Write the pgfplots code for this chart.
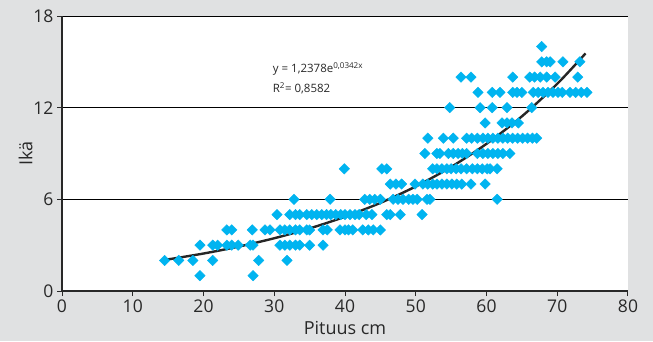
\documentclass[border=0pt]{standalone}
\usepackage{pgfplots}
\pgfplotsset{compat=1.18}
\usepackage{fontspec}
\setmainfont{Open Sans}
\definecolor{bggray}{RGB}{224,225,226}
\definecolor{dotcyan}{RGB}{0,180,240}
\definecolor{axgray}{RGB}{40,40,40}
\begin{document}
\begin{tikzpicture}
\useasboundingbox (0,0) rectangle (653pt,341pt);
\fill[bggray] (0,0) rectangle (653pt,341pt);
\begin{axis}[
  at={(62pt,50pt)}, anchor=south west,
  width=566pt, height=275pt, scale only axis,
  xmin=0, xmax=80, ymin=0, ymax=18,
  xtick={0,10,...,80}, ytick={0,6,12,18},
  axis lines=left, axis line style={axgray, line width=1.2pt, -},
  tick style={axgray, line width=1pt},
  tick align=outside, major tick length=5pt,
  ymajorgrids, grid style={black, line width=0.9pt},
  axis background/.style={fill=white},
  tick label style={font=\fontsize{17.5}{20}\selectfont, text=axgray},
  /pgf/number format/assume math mode=true,
  xlabel={Pituus cm}, ylabel={Ikä},
  label style={font=\fontsize{18}{21}\selectfont, text=axgray},
  xlabel style={yshift=-2pt},
  ylabel style={yshift=-6pt},
  clip=false,
]
\addplot[only marks, mark=square*, mark size=3.7pt, mark options={rotate=45, fill=dotcyan, draw=dotcyan}] coordinates {
(19.5,1)(27,1)
(14.5,2)(16.5,2)(18.5,2)(21.3,2)(27.8,2)(31.8,2)
(19.5,3)(21.3,3)(22,3)(23.3,3)(24,3)(24.9,3)(26.6,3)(27,3)(30.8,3)(31.5,3)(32.2,3)(33,3)(33.6,3)(35,3)(36.9,3)
(23.3,4)(24,4)(26.9,4)(28.7,4)(29.4,4)(30.8,4)(31.5,4)(32.2,4)(33,4)(33.6,4)(34.6,4)(35,4)(36.9,4)(37.5,4)(39.3,4)(40,4)(40.5,4)(41.1,4)(42.5,4)(43.3,4)(44,4)(45,4)
(30.4,5)(32.2,5)(33,5)(33.6,5)(34.6,5)(35.3,5)(36,5)(36.7,5)(37.4,5)(38,5)(38.7,5)(39.4,5)(40,5)(40.7,5)(41.4,5)(42,5)(43,5)(43.8,5)(45.9,5)(46.4,5)(47.8,5)(50.9,5)
(32.8,6)(37.9,6)(42.8,6)(43.5,6)(44.2,6)(45,6)(46.8,6)(47.5,6)(48.2,6)(49,6)(49.6,6)(50.2,6)(51.6,6)(52,6)(61.5,6)
(46.4,7)(47.2,7)(48,7)(49.9,7)(51,7)(51.7,7)(52.4,7)(53,7)(53.7,7)(54.4,7)(55.1,7)(55.8,7)(56.5,7)(57.8,7)(59.8,7)
(39.9,8)(45.2,8)(45.9,8)(52.4,8)(53,8)(53.7,8)(54.4,8)(55,8)(55.7,8)(56.4,8)(57.2,8)(58,8)(58.7,8)(59.4,8)(60.1,8)(60.5,8)(61.5,8)
(51.3,9)(53,9)(53.4,9)(54.6,9)(55.3,9)(56,9)(56.6,9)(57.2,9)(58.7,9)(59.5,9)(60.2,9)(60.9,9)(61.6,9)(62.3,9)(63.3,9)
(51.7,10)(53.9,10)(55.3,10)(57.2,10)(57.9,10)(58.7,10)(59.5,10)(60.2,10)(60.9,10)(61.6,10)(62.3,10)(63,10)(63.7,10)(64.4,10)(65.1,10)(65.8,10)(66.5,10)(67.1,10)
(59.8,11)(62.2,11)(62.9,11)(63.6,11)(64.5,11)
(54.8,12)(59.1,12)(60.8,12)(62.9,12)(66.4,12)
(58.8,13)(60.8,13)(61.9,13)(63.7,13)(64.3,13)(65,13)(66.6,13)(67.3,13)(68,13)(68.7,13)(69.4,13)(70.1,13)(70.7,13)(71.8,13)(72.6,13)(73.4,13)(74.2,13)
(56.4,14)(57.8,14)(63.7,14)(66.1,14)(66.8,14)(67.6,14)(68.5,14)(69.7,14)(72.9,14)
(67.8,15)(68.5,15)(69,15)(70.8,15)(73.2,15)
(67.8,16)
};
\addplot[no marks, smooth, color=black!85, line width=2.4pt] coordinates {
(14.5,2.0325)(20,2.4531)(25,2.9106)(30,3.4533)(35,4.0974)(40,4.8615)(45,5.7681)(50,6.8438)(55,8.1201)(60,9.6343)(65,11.431)(70,13.563)(74,15.552)
};
\node[anchor=west, font=\fontsize{11.5}{13}\selectfont, text=axgray] at (axis cs:29.3,14.55) {y = 1,2378e\textsuperscript{0,0342x}};
\node[anchor=west, font=\fontsize{11.5}{13}\selectfont, text=axgray] at (axis cs:29.3,13.25) {R\textsuperscript{2}= 0,8582};
\end{axis}
\end{tikzpicture}
\end{document}
